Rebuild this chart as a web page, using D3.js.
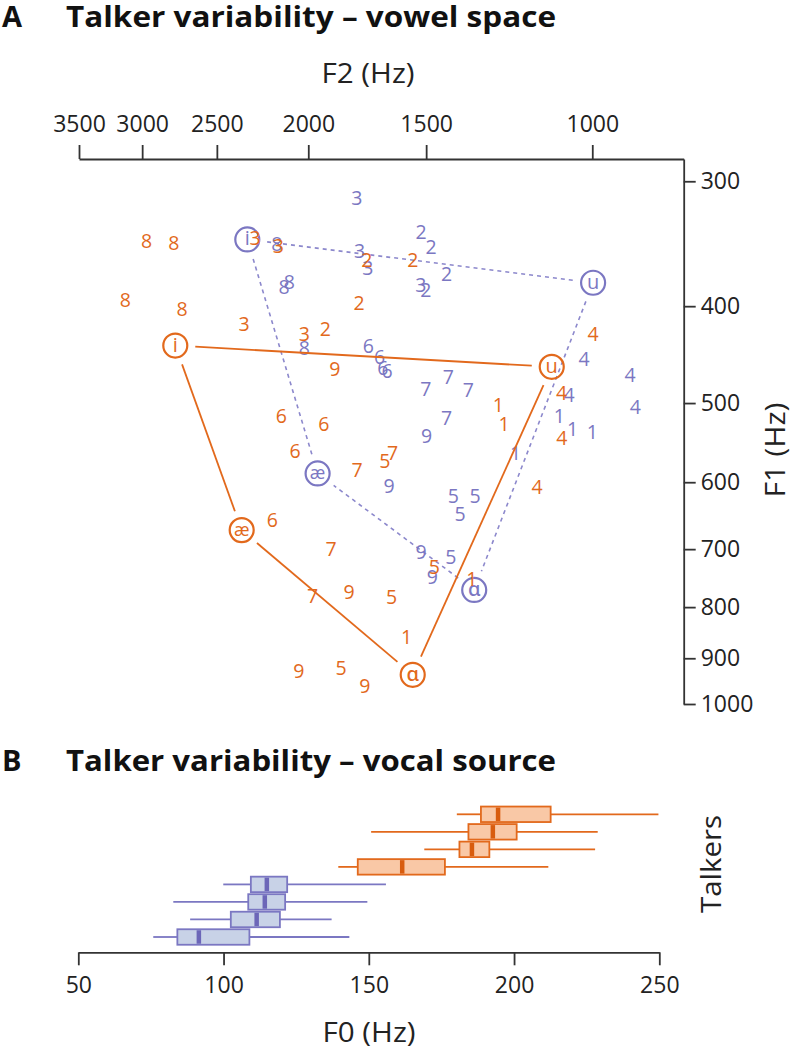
<!DOCTYPE html>
<html><head><meta charset="utf-8">
<script src="https://cdn.jsdelivr.net/npm/d3@7"></script>
<style>
body{margin:0;background:#fff}
svg{display:block}
text{font-family:'Open Sans','Noto Sans',sans-serif;fill:#222}
</style>
</head><body><svg id="c" width="793" height="1050"></svg>
<script>
// ---------- data ----------
const f2Ticks = [3500, 3000, 2500, 2000, 1500, 1000];
const f1Ticks = [300, 400, 500, 600, 700, 800, 900, 1000];
const f0Ticks = [50, 100, 150, 200, 250];

// [vowel number, F2 (Hz), F1 (Hz)]
const orangeTokens = [
  [1,1258,502],[1,1240,525],[1,1342,749],[1,1573,856],
  [2,1734,360],[2,1550,360],[2,1767,397],[2,1919,422],
  [3,2278,342],[3,2152,348],[3,2340,417],[3,2019,426],
  [4,998,426],[4,1078,488],[4,1077,542],[4,1144,607],
  [5,1659,572],[5,1470,729],[5,1632,781],[5,1846,921],
  [6,2136,515],[6,1925,525],[6,2066,558],[6,2184,655],
  [7,1628,561],[7,1775,584],[7,1892,700],[7,1979,780],
  [8,2967,344],[8,2776,346],[8,3126,394],[8,2722,403],
  [9,1874,462],[9,1811,772],[9,2047,926],[9,1742,960]
];
const purpleTokens = [
  [1,1206,561],[1,1084,515],[1,1049,531],[1,1000,535],
  [2,1519,337],[2,1482,349],[2,1427,371],[2,1501,385],
  [3,1776,312],[3,1765,352],[3,1729,366],[3,1520,381],
  [4,1020,452],[4,912,469],[4,900,504],[4,1058,491],
  [5,1404,619],[5,1331,619],[5,1381,646],[5,1412,713],
  [6,1727,438],[6,1681,450],[6,1667,461],[6,1650,464],
  [7,1501,484],[7,1421,471],[7,1353,485],[7,1427,518],
  [8,2160,347],[8,2095,378],[8,2122,383],[8,2019,440],
  [9,1498,540],[9,1642,605],[9,1519,704],[9,1478,746]
];
// corner vowels [symbol, F2, F1] in polygon order
const orangeCorners = [["i",2767,438],["u",1104,460],["ɑ",1550,935],["æ",2353,670]];
const purpleCorners = [["i",2321,343],["u",998,379],["ɑ",1334,769],["æ",1955,588]];

// F0 boxplots [whiskerLow, q1, median, q3, whiskerHigh], top to bottom
const orangeBoxes = [
  [180.3,188.6,194.5,212.6,249.7],
  [150.8,184.3,192.7,200.9,228.8],
  [169.1,181.2,185.5,191.5,227.9],
  [139.5,146.2,161.5,176.2,211.8]
];
const purpleBoxes = [
  [99.9,109.4,114.9,121.9,155.9],
  [82.7,108.5,114.2,121.2,149.5],
  [88.5,102.5,111.4,119.4,137.2],
  [75.8,84.1,91.5,108.9,143.3]
];

// ---------- styles ----------
const ORANGE = "#e2691c", ORANGE_DARK = "#d85c0e", ORANGE_FILL = "#f9c8a6";
const PURPLE = "#7b77c2", PURPLE_DARK = "#6c66b8", PURPLE_FILL = "#c8d2e7";
const AXIS = "#333";

const svg = d3.select("#c");

// ---------- titles ----------
function title(y, letter, txt){
  svg.append("text").attr("x",2).attr("y",y).attr("font-size",29).attr("font-weight",700)
    .style("fill","#111").text(letter);
  svg.append("text").attr("x",66).attr("y",y).attr("font-size",29).attr("font-weight",700)
    .style("fill","#111").attr("textLength",490).attr("lengthAdjust","spacingAndGlyphs").text(txt);
}
title(27, "A", "Talker variability – vowel space");
title(771, "B", "Talker variability – vocal source");

// ---------- panel A scales ----------
const x = d3.scaleLog().domain([3500, 800]).range([79, 683.7]);
const y = d3.scaleLog().domain([285, 1000]).range([159, 704]);

const gTop = svg.append("g").attr("transform","translate(0,159)")
  .call(d3.axisTop(x).tickValues(f2Ticks).tickFormat(d3.format("d")).tickSize(14).tickSizeOuter(0).tickPadding(13));
const gRight = svg.append("g").attr("transform","translate(683.7,0)")
  .call(d3.axisRight(y).tickValues(f1Ticks).tickFormat(d3.format("d")).tickSize(12).tickSizeOuter(0).tickPadding(5));
[gTop, gRight].forEach(g=>{
  g.select(".domain").attr("stroke",AXIS).attr("stroke-width",1.8);
  g.selectAll(".tick line").attr("stroke",AXIS).attr("stroke-width",1.8);
  g.selectAll(".tick text").attr("font-size",23).style("fill","#222")
    .attr("font-family","'Open Sans',sans-serif");
});

svg.append("text").attr("x",368).attr("y",83).attr("text-anchor","middle")
  .attr("font-size",28).attr("textLength",93).attr("lengthAdjust","spacingAndGlyphs").text("F2 (Hz)");
svg.append("text").attr("transform","translate(785,450) rotate(-90)").attr("text-anchor","middle")
  .attr("font-size",28).attr("textLength",95).attr("lengthAdjust","spacingAndGlyphs").text("F1 (Hz)");

// ---------- vowel polygons ----------
function polygon(corners, color, dash){
  const pts = corners.map(c=>[x(c[1]), y(c[2])]);
  const trim = 20;
  pts.forEach((p,i)=>{
    const q = pts[(i+1)%pts.length];
    const dx=q[0]-p[0], dy=q[1]-p[1], L=Math.hypot(dx,dy);
    svg.append("line")
      .attr("x1",p[0]+dx/L*trim).attr("y1",p[1]+dy/L*trim)
      .attr("x2",q[0]-dx/L*trim).attr("y2",q[1]-dy/L*trim)
      .attr("stroke",color).attr("stroke-width",dash?1.6:1.8)
      .attr("stroke-dasharray",dash?"4,4":null);
  });
}
function corners(cs, color){
  const g = svg.append("g");
  cs.forEach(c=>{
    g.append("circle").attr("cx",x(c[1])).attr("cy",y(c[2])).attr("r",12)
      .attr("fill","none").attr("stroke",color).attr("stroke-width",2.2);
    g.append("text").attr("x",x(c[1])).attr("y",y(c[2])+6).attr("text-anchor","middle")
      .attr("font-size",c[0]==="æ"?18:20).attr("font-weight",500)
      .attr("font-family","'Noto Sans','DejaVu Sans',sans-serif")
      .style("fill",color).text(c[0]);
  });
}
function tokens(ts, color){
  svg.append("g").selectAll("text").data(ts).join("text")
    .attr("x",d=>x(d[1])).attr("y",d=>y(d[2])).attr("dy","0.36em")
    .attr("text-anchor","middle").attr("font-size",19.5).style("fill",color)
    .text(d=>d[0]);
}
polygon(purpleCorners, "#8c88cc", true);
corners(purpleCorners, PURPLE);
tokens(purpleTokens, PURPLE);
polygon(orangeCorners, ORANGE, false);
corners(orangeCorners, ORANGE);
tokens(orangeTokens, ORANGE);

// ---------- panel B ----------
const xb = d3.scaleLinear().domain([50, 250]).range([78.3, 659.3]);
const talkers = d3.range(8);
const yb = d3.scalePoint().domain(talkers).range([814.3, 937]);
const boxH = 15.5;

const gBot = svg.append("g").attr("transform","translate(0,952.3)")
  .call(d3.axisBottom(xb).tickValues(f0Ticks).tickSize(13).tickSizeOuter(0).tickPadding(11));
gBot.select(".domain").attr("stroke",AXIS).attr("stroke-width",1.8);
gBot.selectAll(".tick line").attr("stroke",AXIS).attr("stroke-width",1.8);
gBot.selectAll(".tick text").attr("font-size",23).style("fill","#222")
  .attr("font-family","'Open Sans',sans-serif");

const allBoxes = orangeBoxes.map(b=>({b, c:ORANGE, d:ORANGE_DARK, f:ORANGE_FILL}))
  .concat(purpleBoxes.map(b=>({b, c:PURPLE, d:PURPLE_DARK, f:PURPLE_FILL})));
allBoxes.forEach((o,i)=>{
  const cy = yb(i), b = o.b;
  const g = svg.append("g");
  g.append("line").attr("x1",xb(b[0])).attr("x2",xb(b[1])).attr("y1",cy).attr("y2",cy)
    .attr("stroke",o.c).attr("stroke-width",1.8);
  g.append("line").attr("x1",xb(b[3])).attr("x2",xb(b[4])).attr("y1",cy).attr("y2",cy)
    .attr("stroke",o.c).attr("stroke-width",1.8);
  g.append("rect").attr("x",xb(b[1])).attr("y",cy-boxH/2).attr("width",xb(b[3])-xb(b[1]))
    .attr("height",boxH).attr("fill",o.f).attr("stroke",o.c).attr("stroke-width",1.8);
  g.append("line").attr("x1",xb(b[2])).attr("x2",xb(b[2])).attr("y1",cy-boxH/2+1).attr("y2",cy+boxH/2-1)
    .attr("stroke",o.d).attr("stroke-width",4.5);
});

svg.append("text").attr("x",369).attr("y",1042).attr("text-anchor","middle")
  .attr("font-size",28).attr("textLength",93).attr("lengthAdjust","spacingAndGlyphs").text("F0 (Hz)");
svg.append("text").attr("transform","translate(721,864) rotate(-90)").attr("text-anchor","middle")
  .attr("font-size",28).attr("textLength",98).attr("lengthAdjust","spacingAndGlyphs").text("Talkers");
</script>
</body></html>
